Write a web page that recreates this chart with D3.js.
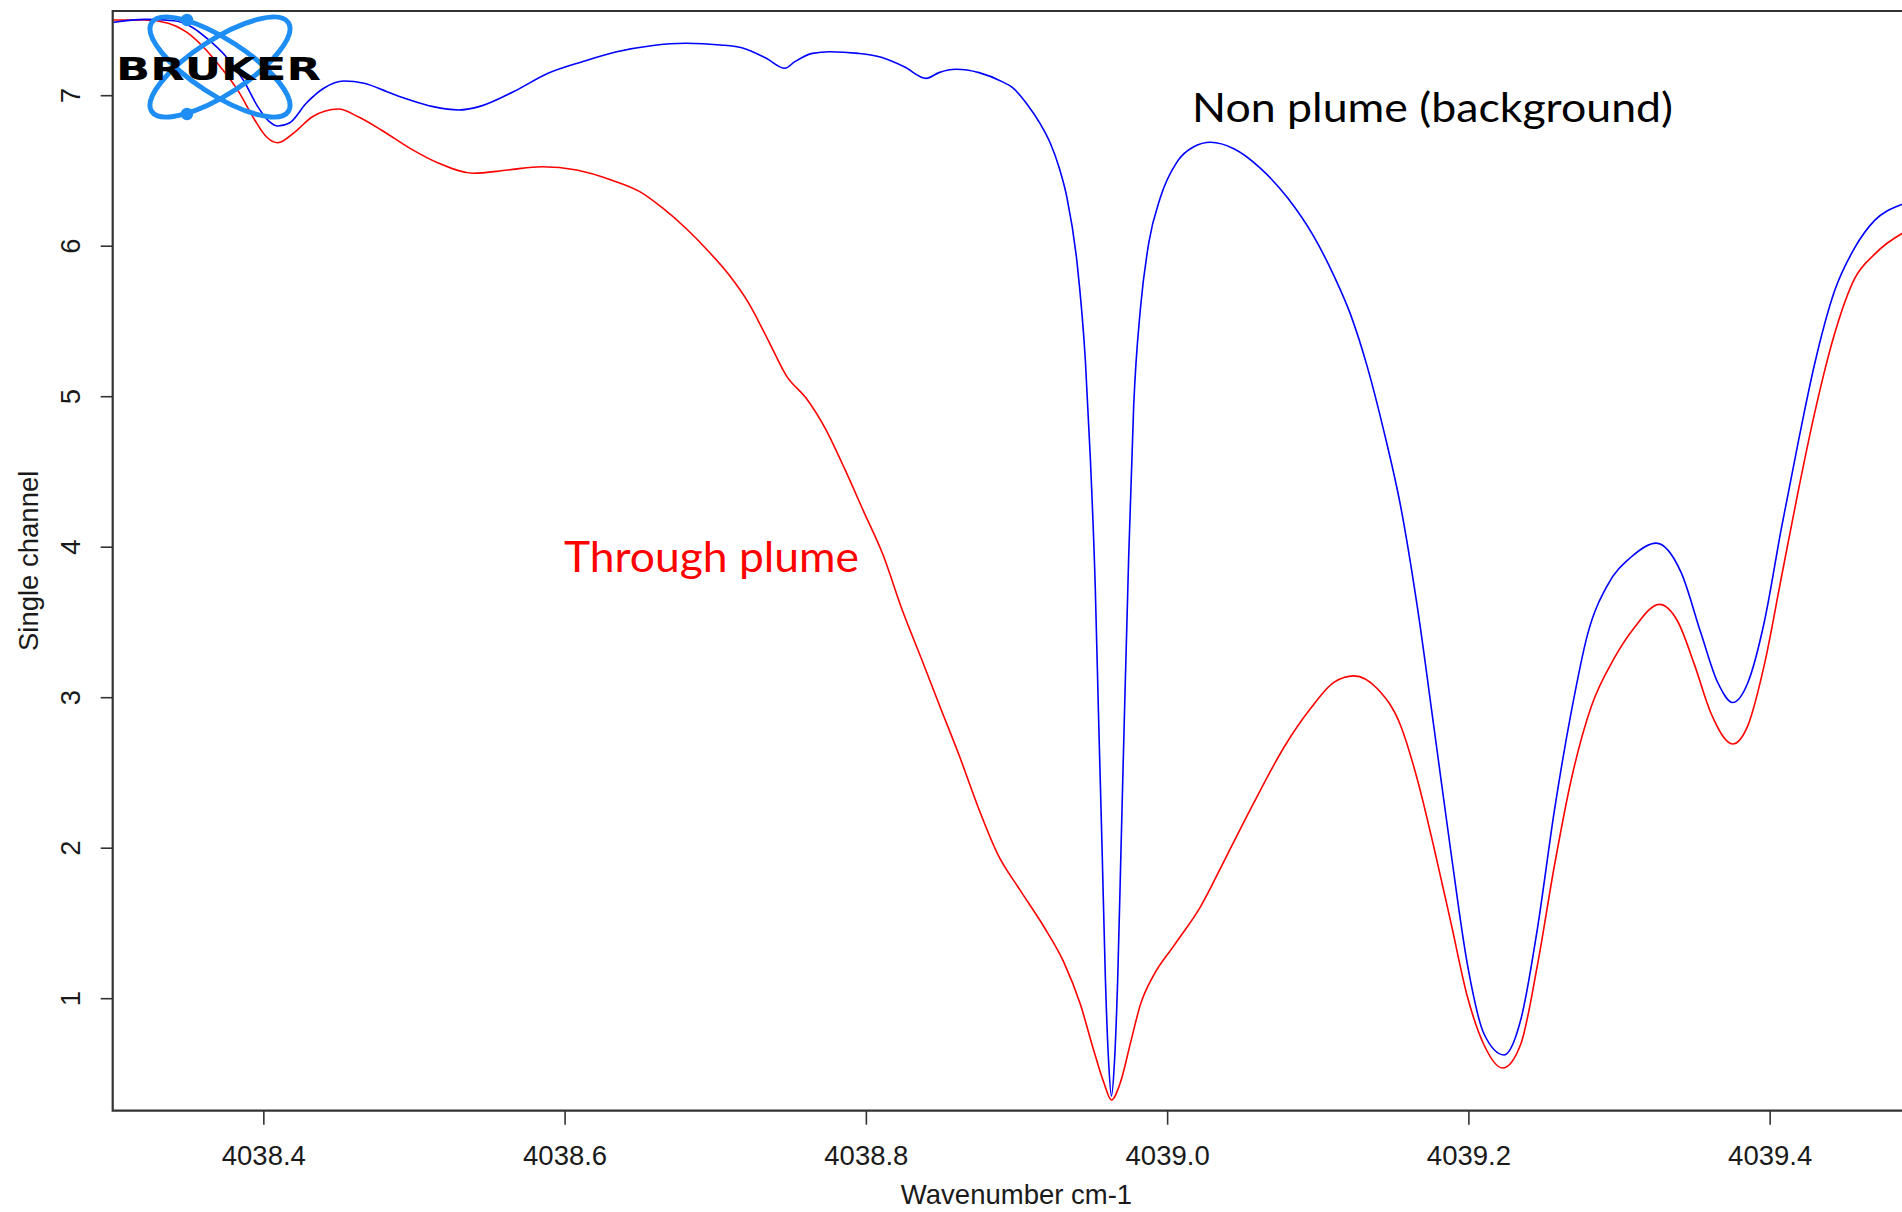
<!DOCTYPE html>
<html>
<head>
<meta charset="utf-8">
<script src="https://cdn.jsdelivr.net/npm/d3@7"></script>
<style>
    html, body { margin: 0; padding: 0; background: #fff; overflow: hidden; }
    svg { display: block; }
</style>
</head>
<body>
<svg id="chart" width="1902" height="1212"></svg>
<script>
// spectra (wavenumber cm-1, single channel)
const backgroundX = [
    4038.2990, 4038.3216, 4038.3408, 4038.3521, 4038.3638, 4038.3753, 4038.3867, 4038.3963, 4038.4040, 4038.4096,
    4038.4173, 4038.4286, 4038.4401, 4038.4535, 4038.4669, 4038.4821, 4038.4974, 4038.5127, 4038.5298, 4038.5432,
    4038.5660, 4038.5890, 4038.6118, 4038.6346, 4038.6576, 4038.6805, 4038.7034, 4038.7187, 4038.7339, 4038.7462,
    4038.7529, 4038.7645, 4038.7759, 4038.7950, 4038.8102, 4038.8255, 4038.8400, 4038.8485, 4038.8599, 4038.8751,
    4038.8904, 4038.8972, 4038.9069, 4038.9158, 4038.9224, 4038.9284, 4038.9335, 4038.9402, 4038.9457, 4038.9490,
    4038.9523, 4038.9545, 4038.9568, 4038.9590, 4038.9612, 4038.9630, 4038.9650, 4038.9672, 4038.9694, 4038.9716,
    4038.9745, 4038.9778, 4038.9823, 4038.9878, 4038.9955, 4039.0066, 4039.0177, 4039.0288, 4039.0443, 4039.0620,
    4039.0798, 4039.0974, 4039.1107, 4039.1218, 4039.1329, 4039.1440, 4039.1551, 4039.1662, 4039.1772, 4039.1883,
    4039.1994, 4039.2104, 4039.2237, 4039.2348, 4039.2459, 4039.2570, 4039.2681, 4039.2792, 4039.2925, 4039.3079,
    4039.3246, 4039.3412, 4039.3545, 4039.3656, 4039.3755, 4039.3855, 4039.3965, 4039.4076, 4039.4187, 4039.4298,
    4039.4431, 4039.4564, 4039.4697, 4039.4887, 4039.5007
]
const backgroundY = [
    7.482, 7.504, 7.495, 7.455, 7.367, 7.256, 7.101, 6.924, 6.824, 6.795,
    6.815, 6.948, 7.046, 7.094, 7.079, 7.023, 6.968, 6.924, 6.902, 6.924,
    7.023, 7.146, 7.223, 7.289, 7.329, 7.345, 7.334, 7.312, 7.245, 7.179,
    7.223, 7.278, 7.289, 7.278, 7.252, 7.189, 7.112, 7.150, 7.172, 7.150,
    7.090, 7.052, 6.942, 6.809, 6.682, 6.516, 6.320, 5.887, 5.241, 4.591,
    3.726, 2.862, 1.998, 1.134, 0.569, 0.350, 0.569, 1.134, 1.998, 2.862,
    3.942, 4.936, 5.586, 6.018, 6.320, 6.557, 6.657, 6.687, 6.644, 6.514,
    6.320, 6.060, 5.801, 5.542, 5.195, 4.763, 4.264, 3.593, 2.795, 1.978,
    1.221, 0.762, 0.623, 0.858, 1.468, 2.242, 2.892, 3.421, 3.747, 3.930,
    4.024, 3.829, 3.421, 3.096, 2.965, 3.096, 3.503, 4.113, 4.682, 5.212,
    5.700, 5.985, 6.168, 6.278, 6.317
]
const plumeX = [
    4038.2990, 4038.3216, 4038.3369, 4038.3486, 4038.3600, 4038.3714, 4038.3829, 4038.3943, 4038.4020, 4038.4096,
    4038.4211, 4038.4326, 4038.4497, 4038.4630, 4038.4783, 4038.4974, 4038.5165, 4038.5394, 4038.5622, 4038.5851,
    4038.6080, 4038.6309, 4038.6499, 4038.6652, 4038.6805, 4038.6958, 4038.7095, 4038.7222, 4038.7350, 4038.7476,
    4038.7603, 4038.7731, 4038.7858, 4038.7985, 4038.8112, 4038.8239, 4038.8367, 4038.8493, 4038.8621, 4038.8748,
    4038.8875, 4038.9025, 4038.9180, 4038.9313, 4038.9424, 4038.9512, 4038.9579, 4038.9630, 4038.9690, 4038.9756,
    4038.9823, 4038.9911, 4039.0044, 4039.0221, 4039.0399, 4039.0576, 4039.0775, 4039.0953, 4039.1107, 4039.1240,
    4039.1396, 4039.1551, 4039.1662, 4039.1772, 4039.1883, 4039.1994, 4039.2104, 4039.2227, 4039.2348, 4039.2459,
    4039.2570, 4039.2681, 4039.2814, 4039.2968, 4039.3101, 4039.3268, 4039.3390, 4039.3500, 4039.3611, 4039.3755,
    4039.3855, 4039.3965, 4039.4076, 4039.4187, 4039.4298, 4039.4431, 4039.4564, 4039.4697, 4039.4887, 4039.5007
]
const plumeY = [
    7.500, 7.500, 7.478, 7.422, 7.322, 7.189, 7.035, 6.835, 6.724, 6.684,
    6.757, 6.857, 6.908, 6.857, 6.769, 6.647, 6.548, 6.481, 6.503, 6.525,
    6.503, 6.437, 6.359, 6.249, 6.116, 5.960, 5.802, 5.619, 5.375, 5.130,
    4.988, 4.785, 4.520, 4.235, 3.951, 3.586, 3.260, 2.935, 2.609, 2.262,
    1.957, 1.716, 1.478, 1.241, 0.959, 0.656, 0.441, 0.324, 0.441, 0.700,
    0.959, 1.154, 1.348, 1.607, 1.953, 2.299, 2.666, 2.926, 3.099, 3.142,
    3.056, 2.809, 2.450, 1.998, 1.506, 1.008, 0.689, 0.536, 0.696, 1.224,
    1.875, 2.445, 2.933, 3.259, 3.462, 3.617, 3.503, 3.218, 2.892, 2.689,
    2.811, 3.218, 3.787, 4.357, 4.886, 5.415, 5.781, 5.944, 6.086, 6.140
]
const xTicks = [4038.4, 4038.6, 4038.8, 4039.0, 4039.2, 4039.4]
const yTicks = [1, 2, 3, 4, 5, 6, 7]

const plot = { left: 112.7, top: 11, right: 1920.3, bottom: 1110.7 }
const axisFont = '27.5px "Liberation Sans", Arial, sans-serif'

const svg = d3.select('#chart')

const x = d3.scaleLinear().domain([4038.3, 4039.5]).range([plot.left, plot.right])
const y = d3.scaleLinear().domain([0.2525, 7.5595]).range([plot.bottom, plot.top])

// axes
let xAxis = svg.append('g')
    .attr('transform', 'translate(0,' + plot.bottom + ')')
    .call(d3.axisBottom(x).tickValues(xTicks).tickFormat(d3.format('.1f')).tickSize(14).tickPadding(21))
xAxis.select('.domain').remove()
xAxis.selectAll('line').attr('stroke', '#333').attr('stroke-width', 1.6)
xAxis.selectAll('text').attr('fill', '#1a1a1a').style('font', axisFont)

let yAxis = svg.append('g')
    .attr('transform', 'translate(' + plot.left + ',0)')
    .call(d3.axisLeft(y).tickValues(yTicks).tickFormat(d3.format('d')).tickSize(12))
yAxis.select('.domain').remove()
yAxis.selectAll('line').attr('stroke', '#333').attr('stroke-width', 1.6)
yAxis.selectAll('text')
    .attr('x', null).attr('dy', null)
    .attr('text-anchor', 'middle')
    .attr('transform', 'translate(-32.7,0) rotate(-90)')
    .attr('fill', '#1a1a1a')
    .style('font', axisFont)

svg.append('text')
    .attr('x', (plot.left + plot.right) / 2)
    .attr('y', 1204)
    .attr('text-anchor', 'middle')
    .attr('fill', '#1a1a1a')
    .style('font', axisFont)
    .text('Wavenumber cm-1')

svg.append('text')
    .attr('transform', 'translate(38,' + (plot.top + plot.bottom) / 2 + ') rotate(-90)')
    .attr('text-anchor', 'middle')
    .attr('fill', '#1a1a1a')
    .style('font', axisFont)
    .text('Single channel')

// spectra
svg.append('clipPath').attr('id', 'plotClip')
    .append('rect')
    .attr('x', plot.left).attr('y', plot.top)
    .attr('width', plot.right - plot.left).attr('height', plot.bottom - plot.top)

const line = d3.line()
    .x(function (d) { return x(d[0]) })
    .y(function (d) { return y(d[1]) })
    .curve(d3.curveMonotoneX)

const lines = svg.append('g').attr('clip-path', 'url(#plotClip)')
lines.append('path')
    .datum(d3.zip(plumeX, plumeY))
    .attr('d', line)
    .attr('fill', 'none')
    .attr('stroke', '#ff0000')
    .attr('stroke-width', 1.6)
lines.append('path')
    .datum(d3.zip(backgroundX, backgroundY))
    .attr('d', line)
    .attr('fill', 'none')
    .attr('stroke', '#0000ff')
    .attr('stroke-width', 1.6)

// box (right side runs off the picture)
svg.append('path')
    .attr('d', 'M' + plot.right + ',' + plot.top + 'H' + plot.left + 'V' + plot.bottom + 'H' + plot.right)
    .attr('fill', 'none')
    .attr('stroke', '#333')
    .attr('stroke-width', 2.2)

// annotations
svg.append('text')
    .attr('x', 1192).attr('y', 122)
    .attr('textLength', 481).attr('lengthAdjust', 'spacingAndGlyphs')
    .attr('fill', '#000')
    .style('font', '41px Lato, "Open Sans", sans-serif')
    .text('Non plume (background)')

svg.append('text')
    .attr('x', 564).attr('y', 572)
    .attr('textLength', 295).attr('lengthAdjust', 'spacingAndGlyphs')
    .attr('fill', '#ff0000')
    .style('font', '42px Lato, "Open Sans", sans-serif')
    .text('Through plume')

// Bruker logo
const logo = svg.append('g')
const cx = 220, cy = 67
;[33, -33].forEach(function (a) {
    logo.append('ellipse')
        .attr('cx', cx).attr('cy', cy)
        .attr('rx', 81.5).attr('ry', 27.4)
        .attr('transform', 'rotate(' + a + ',' + cx + ',' + cy + ')')
        .attr('fill', 'none')
        .attr('stroke', '#1e8ef5')
        .attr('stroke-width', 5)
})
logo.append('circle').attr('cx', 187).attr('cy', 20).attr('r', 6.2).attr('fill', '#1e8ef5')
logo.append('circle').attr('cx', 187).attr('cy', 114).attr('r', 6.2).attr('fill', '#1e8ef5')
logo.append('text')
    .attr('x', 116).attr('y', 80)
    .attr('textLength', 205).attr('lengthAdjust', 'spacingAndGlyphs')
    .attr('fill', '#000')
    .style('font', '900 32px "DejaVu Sans", sans-serif')
    .text('BRUKER')
</script>
</body>
</html>
